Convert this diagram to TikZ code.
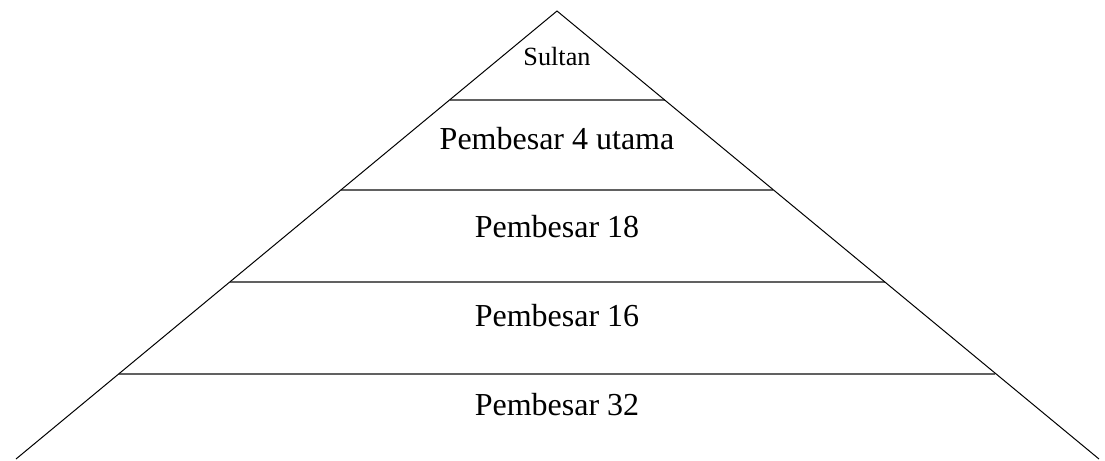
\documentclass[tikz,border=0pt]{standalone}
\usepackage{fontspec}
\setmainfont{Liberation Serif}
\usetikzlibrary{calc}

\tikzset{
  tierline/.style={draw=black!62, line width=1.6pt},
  sideline/.style={draw=black, line width=0.75pt},
  tierlabel/.style={anchor=base, inner sep=0pt, font=\fontsize{24}{28}\selectfont},
  toplabel/.style={anchor=base, inner sep=0pt, font=\fontsize{19.7}{24}\selectfont}
}

\begin{document}
\begin{tikzpicture}[x=0.75pt,y=-0.75pt]
  \useasboundingbox (0,0) rectangle (1105,460);

  \coordinate (apex) at (557,11);
  \coordinate (baseL) at (16,459);
  \coordinate (baseR) at (1099,459);

  % tier lines
  \begin{scope}
    \coordinate (t1L) at (449.5,100); \coordinate (t1R) at (664.5,100);
    \coordinate (t2L) at (341,190);   \coordinate (t2R) at (773,190);
    \coordinate (t3L) at (230,282);   \coordinate (t3R) at (885,282);
    \coordinate (t4L) at (119,374);   \coordinate (t4R) at (995,374);
    \foreach \i in {1,2,3,4}
      \draw[tierline] (t\i L) -- (t\i R);
  \end{scope}

  \draw[sideline] (baseL) -- (apex) -- (baseR);

  \node[toplabel]  (sultan) at (557,65)  {Sultan};
  \node[tierlabel] (utama)  at (557,149) {Pembesar 4 utama};
  \node[tierlabel] (p18)    at (557,237) {Pembesar 18};
  \node[tierlabel] (p16)    at (557,326) {Pembesar 16};
  \node[tierlabel] (p32)    at (557,415) {Pembesar 32};
\end{tikzpicture}
\end{document}
